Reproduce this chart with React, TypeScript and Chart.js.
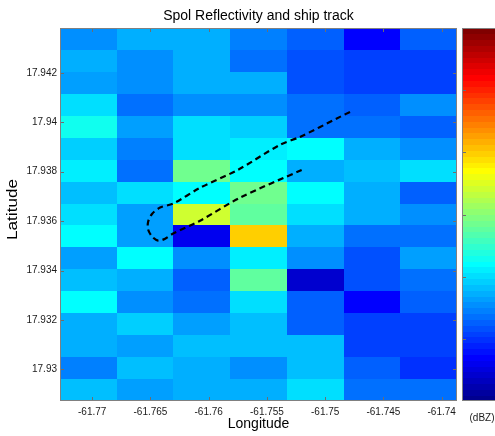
import React, { useEffect, useRef } from "react";
import { Chart, registerables } from "chart.js";

Chart.register(...registerables);

const chartTitle = "Spol Reflectivity and ship track";
const xLabel = "Longitude";
const yLabel = "Latitude";
const unitLabel = "(dBZ)";

// cell centres
const lonCenters = [-61.77033, -61.76546, -61.76059, -61.75572, -61.75086, -61.74599, -61.74112];
const latCenters = [
  17.94337, 17.94248, 17.9416, 17.94071, 17.93982, 17.93893, 17.93805, 17.93716, 17.93627,
  17.93538, 17.9345, 17.93361, 17.93272, 17.93183, 17.93095, 17.93006, 17.92917,
];

// reflectivity (dBZ), rows north -> south, columns west -> east
const refRow00 = [15.7, 16.9, 17.8, 14.6, 12.8, 7.2, 12.2];
const refRow01 = [17.5, 15.7, 17.8, 13.4, 11.6, 10.4, 11.0];
const refRow02 = [16.3, 15.7, 17.2, 17.5, 11.6, 10.4, 11.0];
const refRow03 = [19.9, 14.0, 15.1, 15.1, 14.0, 12.2, 15.1];
const refRow04 = [22.5, 16.3, 19.9, 19.3, 13.4, 13.4, 12.2];
const refRow05 = [19.3, 14.6, 20.1, 20.7, 21.6, 17.5, 15.1];
const refRow06 = [21.0, 14.0, 28.4, 22.2, 16.9, 18.1, 19.9];
const refRow07 = [18.7, 19.9, 22.2, 28.4, 22.2, 16.9, 12.2];
const refRow08 = [19.9, 16.3, 34.3, 27.8, 20.1, 17.8, 15.7];
const refRow09 = [21.9, 16.3, 6.0, 39.9, 17.5, 14.0, 13.4];
const refRow10 = [16.3, 22.2, 15.7, 21.0, 15.7, 11.6, 16.3];
const refRow11 = [18.1, 17.5, 12.8, 27.2, 4.3, 11.6, 13.4];
const refRow12 = [22.2, 15.1, 14.0, 19.9, 12.8, 6.6, 12.8];
const refRow13 = [17.5, 19.3, 16.3, 18.7, 12.2, 11.0, 10.4];
const refRow14 = [17.5, 16.3, 18.7, 18.1, 18.7, 10.4, 11.0];
const refRow15 = [14.6, 18.1, 16.9, 15.7, 18.7, 12.8, 9.8];
const refRow16 = [18.1, 16.3, 17.8, 16.9, 20.4, 14.0, 13.4];
const reflectivity = [
  refRow00, refRow01, refRow02, refRow03, refRow04, refRow05, refRow06, refRow07, refRow08,
  refRow09, refRow10, refRow11, refRow12, refRow13, refRow14, refRow15, refRow16,
];

// ship track
const trackLon = [
  -61.74787, -61.74873, -61.75216, -61.75388, -61.75748, -61.76074, -61.76305, -61.76417,
  -61.76485, -61.7652, -61.7652, -61.76485, -61.76434, -61.76374, -61.76305, -61.76074,
  -61.75731, -61.75199,
];
const trackLat = [
  17.94042, 17.94022, 17.93941, 17.93909, 17.93808, 17.93735, 17.93671, 17.93655, 17.9363,
  17.93598, 17.93566, 17.93537, 17.93521, 17.93529, 17.9355, 17.93602, 17.93695, 17.93808,
];

const xTicks = [-61.77, -61.765, -61.76, -61.755, -61.75, -61.745, -61.74];
const xTickLabels = ["-61.77", "-61.765", "-61.76", "-61.755", "-61.75", "-61.745", "-61.74"];
const yTicks = [17.93, 17.932, 17.934, 17.936, 17.938, 17.94, 17.942];
const yTickLabels = ["17.93", "17.932", "17.934", "17.936", "17.938", "17.94", "17.942"];

const cbMin = 0;
const cbMax = 60;
const cbTicks = [10, 20, 30, 40, 50];
const cbLevels = 64;

const FONT = "'Liberation Sans', Arial, Helvetica, sans-serif";

function edgesFrom(c: number[]): number[] {
  const e: number[] = [];
  e.push(c[0] - (c[1] - c[0]) / 2);
  for (let i = 1; i < c.length; i++) e.push((c[i - 1] + c[i]) / 2);
  e.push(c[c.length - 1] + (c[c.length - 1] - c[c.length - 2]) / 2);
  return e;
}
const lonEdges = edgesFrom(lonCenters);
const latEdges = edgesFrom(latCenters);

function jet(t: number): string {
  const cl = (v: number) => Math.max(0, Math.min(1, v));
  const r = cl(1.5 - Math.abs(4 * t - 3));
  const g = cl(1.5 - Math.abs(4 * t - 2));
  const b = cl(1.5 - Math.abs(4 * t - 1));
  return `rgb(${Math.round(r * 255)},${Math.round(g * 255)},${Math.round(b * 255)})`;
}
function levelColor(idx: number): string {
  return jet((idx + 1) / cbLevels);
}
function colorFor(v: number): string {
  let idx = Math.floor(((v - cbMin) / (cbMax - cbMin)) * cbLevels);
  idx = Math.max(0, Math.min(cbLevels - 1, idx));
  return levelColor(idx);
}

const heatmapPlugin = {
  id: "heatmap",
  beforeDatasetsDraw(chart: any) {
    const { ctx, chartArea, scales } = chart;
    const xs = scales.x;
    const ys = scales.y;
    ctx.save();
    ctx.beginPath();
    ctx.rect(chartArea.left, chartArea.top, chartArea.right - chartArea.left, chartArea.bottom - chartArea.top);
    ctx.clip();
    for (let r = 0; r < reflectivity.length; r++) {
      for (let c = 0; c < reflectivity[r].length; c++) {
        const x0 = Math.round(xs.getPixelForValue(lonEdges[c]));
        const x1 = Math.round(xs.getPixelForValue(lonEdges[c + 1]));
        const y0 = Math.round(ys.getPixelForValue(latEdges[r]));
        const y1 = Math.round(ys.getPixelForValue(latEdges[r + 1]));
        ctx.fillStyle = colorFor(reflectivity[r][c]);
        ctx.fillRect(Math.min(x0, x1), Math.min(y0, y1), Math.abs(x1 - x0), Math.abs(y1 - y0));
      }
    }
    ctx.restore();
  },
  afterDatasetsDraw(chart: any) {
    const { ctx, chartArea, scales } = chart;
    const xs = scales.x;
    const ys = scales.y;
    const { left, right, top, bottom } = chartArea;
    ctx.save();
    ctx.strokeStyle = "#6e6e6e";
    ctx.lineWidth = 1;
    ctx.beginPath();
    for (const t of xTicks) {
      const px = Math.round(xs.getPixelForValue(t)) + 0.5;
      ctx.moveTo(px, bottom);
      ctx.lineTo(px, bottom - 4);
      ctx.moveTo(px, top);
      ctx.lineTo(px, top + 4);
    }
    for (const t of yTicks) {
      const py = Math.round(ys.getPixelForValue(t)) + 0.5;
      ctx.moveTo(left, py);
      ctx.lineTo(left + 4, py);
      ctx.moveTo(right, py);
      ctx.lineTo(right - 4, py);
    }
    ctx.stroke();
    ctx.strokeStyle = "#808080";
    ctx.strokeRect(left + 0.5, top + 0.5, right - left - 1, bottom - top - 1);
    ctx.restore();
  },
  afterDraw(chart: any) {
    const { ctx, chartArea, scales } = chart;
    const cbLeft = chartArea.right + 5;
    const cbWidth = 40;
    const top = chartArea.top;
    const bottom = chartArea.bottom;
    const h = bottom - top;
    ctx.save();
    for (let i = 0; i < cbLevels; i++) {
      const y1 = bottom - (i / cbLevels) * h;
      const y0 = bottom - ((i + 1) / cbLevels) * h;
      ctx.fillStyle = levelColor(i);
      ctx.fillRect(cbLeft, Math.floor(y0), cbWidth, Math.ceil(y1) - Math.floor(y0));
    }
    ctx.strokeStyle = "#6e6e6e";
    ctx.lineWidth = 1;
    ctx.beginPath();
    for (const v of cbTicks) {
      const py = Math.round(bottom - ((v - cbMin) / (cbMax - cbMin)) * h) + 0.5;
      ctx.moveTo(cbLeft, py);
      ctx.lineTo(cbLeft + 4, py);
      ctx.moveTo(cbLeft + cbWidth, py);
      ctx.lineTo(cbLeft + cbWidth - 4, py);
    }
    ctx.stroke();
    ctx.strokeStyle = "#808080";
    ctx.strokeRect(cbLeft + 0.5, top + 0.5, cbWidth - 1, h - 1);
    ctx.fillStyle = "#1a1a1a";
    ctx.font = `10px ${FONT}`;
    ctx.textAlign = "center";
    ctx.textBaseline = "middle";
    ctx.fillText(unitLabel, cbLeft + 20, bottom + 17);
    ctx.restore();

    // y-axis title (rendered slightly wide, as in the original export)
    const ys = scales.y;
    ctx.save();
    ctx.translate(ys.left + 13, (top + bottom) / 2 - 5);
    ctx.rotate(-Math.PI / 2);
    ctx.scale(1.22, 1);
    ctx.fillStyle = "#000000";
    ctx.font = `14px ${FONT}`;
    ctx.textAlign = "center";
    ctx.textBaseline = "middle";
    ctx.fillText(yLabel, 0, 0);
    ctx.restore();
  },
};

export default function App() {
  const canvasRef = useRef<HTMLCanvasElement | null>(null);

  useEffect(() => {
    if (!canvasRef.current) return;
    const trackData = trackLon.map((x, i) => ({ x, y: trackLat[i] }));
    const chart = new Chart(canvasRef.current, {
      type: "scatter",
      data: {
        datasets: [
          {
            label: "Ship track",
            data: trackData,
            showLine: true,
            borderColor: "#000000",
            borderWidth: 2.2,
            borderDash: [6, 4],
            pointRadius: 0,
            tension: 0.3,
            fill: false,
          } as any,
        ],
      },
      options: {
        responsive: false,
        animation: false,
        devicePixelRatio: 1,
        layout: { padding: { left: 0, right: 38, top: 0, bottom: 0 } },
        plugins: {
          legend: { display: false },
          tooltip: { enabled: false },
          title: {
            display: true,
            text: chartTitle,
            fullSize: false,
            color: "#000000",
            font: { size: 14, weight: "normal", family: FONT, lineHeight: 1.2 },
            padding: { top: 7.5, bottom: 3.7 },
          },
        },
        scales: {
          x: {
            type: "linear",
            min: lonEdges[0],
            max: lonEdges[lonEdges.length - 1],
            afterBuildTicks: (s: any) => {
              s.ticks = xTicks.map((v) => ({ value: v }));
            },
            afterFit: (s: any) => {
              s.height = 35;
            },
            ticks: {
              autoSkip: false,
              maxRotation: 0,
              padding: 5,
              color: "#1a1a1a",
              font: { size: 10, family: FONT },
              callback: (_v: any, i: number) => xTickLabels[i],
            },
            grid: { display: false, drawTicks: false },
            border: { display: false },
            title: {
              display: true,
              text: xLabel,
              color: "#000000",
              font: { size: 14, family: FONT, lineHeight: 1.2 },
              padding: { top: 0, bottom: 3.6 },
            },
          },
          y: {
            type: "linear",
            min: latEdges[latEdges.length - 1],
            max: latEdges[0],
            afterBuildTicks: (s: any) => {
              s.ticks = yTicks.map((v) => ({ value: v }));
            },
            afterFit: (s: any) => {
              s.width = 60;
            },
            ticks: {
              autoSkip: false,
              padding: 3,
              color: "#1a1a1a",
              font: { size: 10, family: FONT },
              callback: (_v: any, i: number) => yTickLabels[i],
            },
            grid: { display: false, drawTicks: false },
            border: { display: false },
            title: { display: false },
          },
        },
      } as any,
      plugins: [heatmapPlugin],
    });
    return () => chart.destroy();
  }, []);

  return (
    <div style={{ position: "fixed", left: 0, top: 0, width: 495, height: 436, background: "#ffffff" }}>
      <canvas ref={canvasRef} width={495} height={436} style={{ display: "block" }} />
    </div>
  );
}
